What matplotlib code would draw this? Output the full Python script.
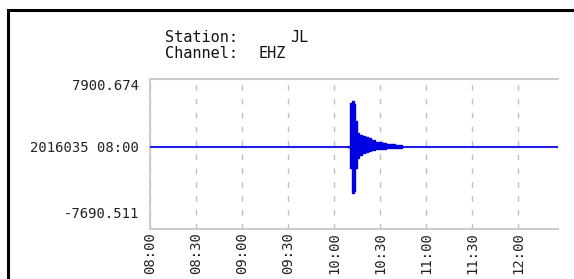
import matplotlib.pyplot as plt
from matplotlib.patches import Rectangle

# Station info
station = 'JL'
channel = 'EHZ'

# x axis: minutes after 08:00, one tick every 30 min
tick_minutes = [0, 30, 60, 90, 120, 150, 180, 210, 240]
tick_labels = ['08:00', '08:30', '09:00', '09:30', '10:00',
               '10:30', '11:00', '11:30', '12:00']

# y axis labels
y_max_label = '7900.674'
y_min_label = '-7690.511'
start_label = '2016035 08:00'
y_top = 7900.674
y_bottom = -7690.511
baseline = 250.0

# envelope of the event (minutes, counts about baseline)
wave_t = [129.2, 130.4, 131.7, 133.0, 133.7, 135.0, 136.5, 138.3, 140.0,
          142.2, 144.5, 146.8, 149.0, 151.3, 154.0, 156.5, 160.0, 163.0, 164.4]
wave_up = [0, 5400, 5600, 5200, 3200, 1700, 1500, 1400, 1200,
           1100, 800, 650, 550, 450, 400, 350, 300, 200, 0]
wave_lo = [0, -2600, -5600, -5400, -2500, -1300, -1000, -700, -600,
           -500, -400, -300, -250, -200, -180, -150, -120, -100, 0]

fig = plt.figure(figsize=(5.74, 2.79), dpi=100)
ax = fig.add_axes([150 / 574, 50 / 279, 408 / 574, 150 / 279])

mono = 'DejaVu Sans Mono'

# baseline trace
ax.plot([0, 266.2], [baseline, baseline], color='#1f1fe6', lw=1.5, zorder=3)

# event
up = [baseline + v for v in wave_up]
lo = [baseline + v for v in wave_lo]
ax.fill_between(wave_t, lo, up, step='post', color='#0000e0', lw=0, zorder=4)
ax.step(wave_t, up, where='post', color='#0000e0', lw=1, zorder=4)
ax.step(wave_t, lo, where='post', color='#0000e0', lw=1, zorder=4)

ax.set_xlim(0, 266.2)
ax.set_ylim(baseline - 82 / 0.00821, baseline + 68 / 0.00821)

ax.set_xticks(tick_minutes)
ax.set_xticklabels(tick_labels, rotation=90, fontsize=10, family=mono, color='#222222')
ax.set_yticks([y_top, baseline, y_bottom])
ax.set_yticklabels([y_max_label, start_label, y_min_label], fontsize=10,
                   family=mono, color='#222222')
ax.tick_params(axis='both', length=0)
ax.tick_params(axis='y', pad=8)
ax.tick_params(axis='x', pad=2)

ax.grid(axis='x', color='#c0c0c0', lw=1, dashes=(4, 6))
ax.grid(axis='y', visible=False)
for side in ['top', 'left', 'bottom']:
    ax.spines[side].set_color('#cccccc')
    ax.spines[side].set_linewidth(1.5)
ax.spines['right'].set_visible(False)

# header text
fig.text(165 / 574, 1 - 38 / 279, 'Station:', family=mono, fontsize=11, va='center', color='#111111')
fig.text(290 / 574, 1 - 38 / 279, station, family=mono, fontsize=11, va='center', color='#111111')
fig.text(165 / 574, 1 - 54 / 279, 'Channel:', family=mono, fontsize=11, va='center', color='#111111')
fig.text(258 / 574, 1 - 54 / 279, channel, family=mono, fontsize=11, va='center', color='#111111')

# black frame on the left and top edges
fig.patches.append(Rectangle((7.5 / 574, -0.2), 1.2, 1.2 - 10 / 279 + 0.0,
                             transform=fig.transFigure, fill=False,
                             edgecolor='black', lw=2.2, zorder=10))

fig.savefig('out.png', dpi=100)
